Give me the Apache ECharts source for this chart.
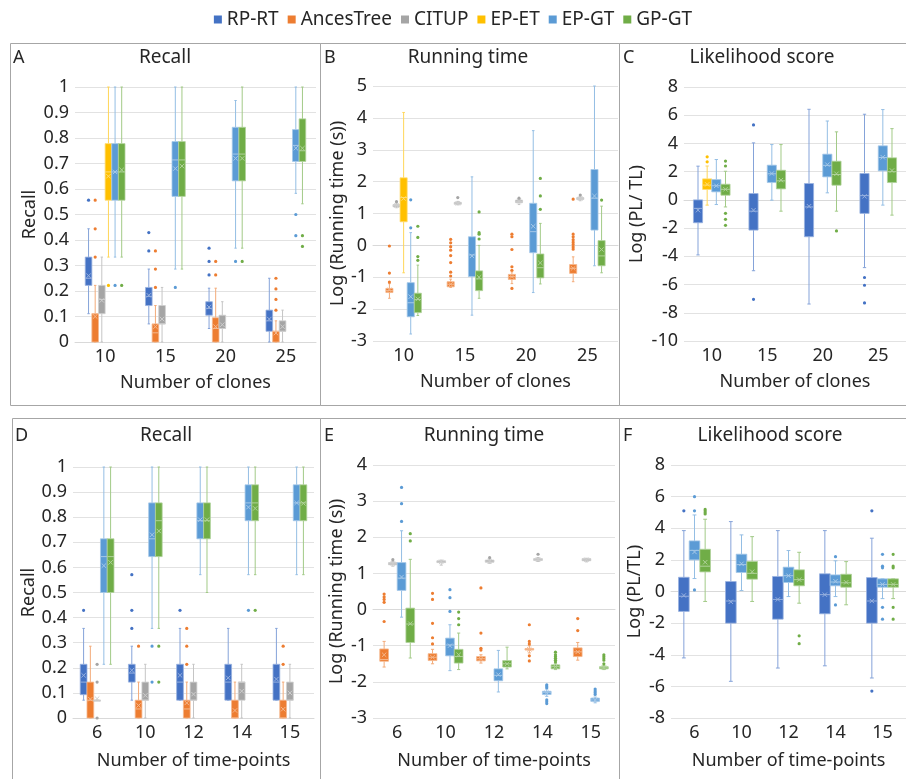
<!DOCTYPE html>
<html>
<head>
<meta charset="utf-8">
<script src="https://cdn.jsdelivr.net/npm/echarts/dist/echarts.min.js"></script>
<style>
html, body { margin: 0; padding: 0; background: #fff; }
#chart { width: 906px; height: 779px; }
</style>
</head>
<body>
<div id="chart"></div>
<script>
var clones = ['10', '15', '20', '25'];
var timePoints = ['6', '10', '12', '14', '15'];
var methods = ['RP-RT', 'AncesTree', 'CITUP', 'EP-ET', 'EP-GT', 'GP-GT'];

// each box: [min, q1, median, q3, max, mean], null = method not in that group
// A - recall vs number of clones
var aRPRT = [[0.111, 0.222, 0.25, 0.333, 0.444, 0.26], [0.071, 0.143, 0.179, 0.214, 0.286, 0.183], [0.053, 0.105, 0.132, 0.158, 0.211, 0.137], [0, 0.042, 0.083, 0.125, 0.25, 0.09]];
var aRPRTOut = [[0.556], [0.429, 0.357], [0.368, 0.316, 0.263], []];
var aAnces = [[0, 0, 0.111, 0.111, 0.222, 0.1], [0, 0, 0.036, 0.071, 0.143, 0.06], [0, 0, 0.053, 0.095, 0.211, 0.06], [0, 0, 0.042, 0.042, 0.083, 0.035]];
var aAncesOut = [[0.556, 0.444, 0.333], [0.357, 0.286, 0.214], [0.316, 0.263], [0.25, 0.208, 0.167, 0.125]];
var aCitup = [[0, 0.111, 0.167, 0.222, 0.333, 0.163], [0, 0.071, 0.071, 0.143, 0.214, 0.09], [0, 0.053, 0.053, 0.105, 0.158, 0.068], [0, 0.042, 0.042, 0.083, 0.125, 0.06]];
var aCitupOut = [[], [], [], []];
var aEPET = [[0.333, 0.556, 0.667, 0.778, 1, 0.65], null, null, null];
var aEPETOut = [[0.222], [], [], []];
var aEPGT = [[0.333, 0.556, 0.667, 0.778, 1, 0.667], [0.286, 0.571, 0.714, 0.786, 1, 0.68], [0.368, 0.632, 0.737, 0.842, 0.947, 0.72], [0.583, 0.708, 0.771, 0.833, 1, 0.76]];
var aEPGTOut = [[0.222], [0.214], [0.316], [0.5, 0.417]];
var aGPGT = [[0.333, 0.556, 0.667, 0.778, 1, 0.675], [0.286, 0.571, 0.714, 0.786, 1, 0.69], [0.368, 0.632, 0.737, 0.842, 1, 0.72], [0.542, 0.708, 0.75, 0.875, 1, 0.76]];
var aGPGTOut = [[0.222], [], [0.316], [0.417, 0.375]];

// B - log running time vs number of clones
var bAnces = [[-1.66, -1.48, -1.42, -1.35, -1.2, -1.4], [-1.32, -1.3, -1.22, -1.14, -1.06, -1.22], [-1.2, -1.07, -0.98, -0.91, -0.83, -0.98], [-1.14, -0.88, -0.72, -0.6, -0.36, -0.72]];
var bAncesOut = [[-0.02, -0.87, -1.15], [0.19, 0.08, -0.04, -0.15, -0.32, -0.54, -0.84, -0.96], [0.35, 0.27, -0.13, -0.67, -0.78, -1.35], [1.45, 0.35, 0.27, 0.18, 0.1, 0.03, -0.05, -0.12]];
var bCitup = [[1.18, 1.21, 1.25, 1.28, 1.32, 1.25], [1.27, 1.29, 1.32, 1.35, 1.38, 1.32], [1.28, 1.34, 1.38, 1.42, 1.45, 1.38], [1.4, 1.44, 1.47, 1.5, 1.53, 1.47]];
var bCitupOut = [[1.37], [1.5], [1.48], [1.58]];
var bEPET = [[-0.86, 0.74, 1.5, 2.12, 4.17, 1.47], null, null, null];
var bEPETOut = [[], [], [], []];
var bEPGT = [[-2.78, -2.24, -1.8, -1.17, 0.4, -1.61], [-2.19, -0.98, -0.3, 0.27, 2.15, -0.33], [-1.48, -0.23, 0.43, 1.32, 3.6, 0.6], [-0.64, 0.48, 1.48, 2.38, 5, 1.55]];
var bEPGTOut = [[1.43, 0.55], [], [], []];
var bGPGT = [[-2.2, -2.11, -1.7, -1.5, -0.62, -1.68], [-1.66, -1.42, -1.05, -0.8, 0, -1.0], [-1.21, -1.02, -0.7, -0.27, 0.69, -0.55], [-0.86, -0.64, -0.33, 0.15, 1.23, -0.13]];
var bGPGTOut = [[0.6, 0.25, -0.35, -0.47], [1.05, 0.4, 0.35, 0.2], [2.1, 1.55, 1.13], [1.42]];

// C - log likelihood ratio vs number of clones
var cRPRT = [[-3.9, -1.62, -0.6, 0, 2.39, -0.73], [-5.02, -2.14, -0.8, 0.45, 4.04, -0.73], [-7.38, -2.61, -0.5, 1.16, 6.42, -0.45], [-4.8, -0.96, 0.3, 1.87, 6.07, 0.25]];
var cRPRTOut = [[], [5.31, -7.05], [], [-5.5, -6.05, -7.3]];
var cEPET = [[-0.37, 0.74, 1.05, 1.49, 2.4, 1.1], null, null, null];
var cEPETOut = [[3.05, 2.7], [], [], []];
var cEPGT = [[-0.33, 0.57, 1.0, 1.44, 2.86, 1.0], [-0.02, 1.23, 1.85, 2.46, 3.92, 1.87], [0.5, 1.63, 2.45, 3.24, 5.59, 2.5], [-0.37, 2.06, 3.0, 3.83, 6.4, 3.02]];
var cEPGTOut = [[], [], [], []];
var cGPGT = [[-0.5, 0.33, 0.75, 1.11, 2.03, 0.75], [-0.8, 0.78, 1.35, 2.1, 3.92, 1.4], [-0.8, 1.04, 1.8, 2.74, 4.82, 1.85], [-1.08, 1.23, 2.0, 2.98, 5.05, 2.08]];
var cGPGTOut = [[2.75, 2.4, -0.95, -1.38, -1.8], [], [-2.2], []];

// D - recall vs number of time-points
var dRPRT = [[0.071, 0.093, 0.143, 0.214, 0.357, 0.17], [0.071, 0.143, 0.179, 0.214, 0.286, 0.19], [0.071, 0.071, 0.143, 0.214, 0.357, 0.17], [0.071, 0.071, 0.143, 0.214, 0.357, 0.16], [0.071, 0.071, 0.143, 0.214, 0.357, 0.155]];
var dRPRTOut = [[0.429], [0.571, 0.429, 0.357], [0.429], [], []];
var dAnces = [[0, 0, 0.071, 0.143, 0.286, 0.075], [0, 0, 0.036, 0.071, 0.143, 0.05], [0, 0, 0.036, 0.071, 0.143, 0.06], [0, 0, 0, 0.071, 0.143, 0.03], [0, 0, 0, 0.071, 0.143, 0.035]];
var dAncesOut = [[], [0.286], [0.357, 0.286, 0.214], [], [0.286, 0.214]];
var dCitup = [[0.071, 0.071, 0.071, 0.071, 0.071, 0.077], [0, 0.071, 0.071, 0.143, 0.214, 0.09], [0, 0.071, 0.071, 0.143, 0.214, 0.095], [0, 0.071, 0.143, 0.143, 0.214, 0.107], [0, 0.071, 0.071, 0.143, 0.214, 0.1]];
var dCitupOut = [[0.214, 0.143, 0], [], [], [], []];
var dEPGT = [[0.214, 0.5, 0.643, 0.714, 1, 0.607], [0.357, 0.643, 0.714, 0.857, 1, 0.73], [0.571, 0.714, 0.786, 0.857, 1, 0.79], [0.571, 0.786, 0.857, 0.929, 1, 0.84], [0.571, 0.786, 0.857, 0.929, 1, 0.857]];
var dEPGTOut = [[], [0.286, 0.143], [], [0.429], []];
var dGPGT = [[0.214, 0.5, 0.643, 0.714, 1, 0.62], [0.357, 0.643, 0.786, 0.857, 1, 0.745], [0.5, 0.714, 0.786, 0.857, 1, 0.79], [0.571, 0.786, 0.857, 0.929, 1, 0.835], [0.571, 0.786, 0.857, 0.929, 1, 0.855]];
var dGPGTOut = [[], [0.286, 0.143], [], [0.429], []];

// E - log running time vs number of time-points
var eAnces = [[-1.59, -1.43, -1.38, -1.09, -0.88, -1.25], [-1.5, -1.41, -1.32, -1.22, -1.1, -1.32], [-1.48, -1.42, -1.36, -1.3, -1.25, -1.36], [-1.2, -1.12, -1.1, -1.08, -1.0, -1.1], [-1.4, -1.3, -1.17, -1.06, -0.91, -1.17]];
var eAncesOut = [[0.43, 0.35, 0.28, 0.2, -0.33], [0.45, 0.28, -0.38, -0.78, -0.95], [0.6, -0.65, -1.07, -1.12], [-0.42, -0.88, -0.95, -1.28, -1.42], [-0.25, -0.58]];
var eCitup = [[1.2, 1.24, 1.27, 1.3, 1.33, 1.27], [1.23, 1.3, 1.32, 1.35, 1.37, 1.32], [1.28, 1.31, 1.34, 1.37, 1.4, 1.34], [1.33, 1.36, 1.38, 1.41, 1.44, 1.38], [1.32, 1.35, 1.38, 1.41, 1.42, 1.38]];
var eCitupOut = [[1.38], [], [1.44], [1.53], []];
var eEPGT = [[-0.21, 0.53, 0.87, 1.3, 2.18, 0.9], [-1.69, -1.28, -0.98, -0.79, -0.42, -1.0], [-2.28, -1.97, -1.82, -1.64, -1.13, -1.8], [-2.4, -2.35, -2.3, -2.26, -2.2, -2.3], [-2.58, -2.54, -2.5, -2.45, -2.42, -2.5]];
var eEPGTOut = [[3.38, 2.93, 2.44], [0.55, 0.33, -0.05], [], [-2.08, -2.12, -2.16, -2.5, -2.55, -2.6], [-2.2, -2.25, -2.3, -2.35]];
var eGPGT = [[-1.34, -0.91, -0.4, 0.04, 1.39, -0.39], [-1.66, -1.48, -1.3, -1.1, -0.65, -1.25], [-1.64, -1.59, -1.5, -1.41, -1.04, -1.5], [-1.66, -1.64, -1.58, -1.53, -1.5, -1.58], [-1.66, -1.64, -1.61, -1.58, -1.55, -1.61]];
var eGPGTOut = [[2.1, 1.9], [-0.07, -0.25, -0.42], [], [-1.18, -1.25, -1.3, -1.35, -1.4, -1.45], [-1.25, -1.3, -1.35, -1.4, -1.5]];

// F - log likelihood ratio vs number of time-points
var fRPRT = [[-4.2, -1.26, -0.3, 0.9, 3.85, -0.25], [-5.68, -2.0, -0.6, 0.63, 4.42, -0.65], [-4.84, -1.75, -0.5, 0.95, 3.85, -0.5], [-4.7, -1.41, -0.2, 1.12, 3.85, -0.2], [-5.47, -2.0, -0.6, 0.88, 3.37, -0.6]];
var fRPRTOut = [[5.1], [], [], [], [5.1, -6.3]];
var fEPGT = [[0.82, 2.0, 2.6, 3.2, 4.84, 2.5], [0.06, 1.2, 1.7, 2.36, 3.58, 1.75], [-0.32, 0.57, 1.0, 1.54, 2.59, 1.0], [-0.32, 0.36, 0.6, 1.05, 1.94, 0.65], [-0.45, 0.27, 0.45, 0.8, 0.8, 0.45]];
var fEPGTOut = [[6.0, 5.1, 0.1], [], [], [2.2, -0.85], [2.35, 1.6, 1.5, -1.0, -1.75]];
var fGPGT = [[-0.63, 1.24, 1.6, 2.67, 4.57, 1.85], [-0.63, 0.78, 1.15, 1.9, 3.47, 1.25], [-0.74, 0.36, 0.75, 1.37, 2.48, 0.75], [-0.84, 0.27, 0.55, 1.09, 1.89, 0.58], [-0.45, 0.27, 0.45, 0.8, 0.8, 0.45]];
var fGPGTOut = [[5.2, 5.1, 5.0, 4.9], [], [-2.8, -3.3], [], [2.35, 1.6, 1.5, -1.0, -1.75]];

var colors = {
    'RP-RT': '#4472C4', 'AncesTree': '#ED7D31', 'CITUP': '#A5A5A5',
    'EP-ET': '#FFC000', 'EP-GT': '#5B9BD5', 'GP-GT': '#70AD47'
};
var textColor = '#262626';
var font = 'Noto Sans';

function tint(hex, t) {
    var n = parseInt(hex.slice(1), 16);
    var r = n >> 16, g = (n >> 8) & 255, b = n & 255;
    r = Math.round(r + (255 - r) * t);
    g = Math.round(g + (255 - g) * t);
    b = Math.round(b + (255 - b) * t);
    return 'rgb(' + r + ',' + g + ',' + b + ')';
}

// grid i, group width as share of a category, [name, boxes, outliers] per slot
var panels = [
    { grid: { left: 75, top: 87, width: 241, height: 255 }, cats: clones, frac: 0.66,
      y: { min: 0, max: 1, interval: 0.1, name: 'Recall', gap: 36 }, xName: 'Number of clones',
      slots: [['RP-RT', aRPRT, aRPRTOut], ['AncesTree', aAnces, aAncesOut], ['CITUP', aCitup, aCitupOut], ['EP-ET', aEPET, aEPETOut], ['EP-GT', aEPGT, aEPGTOut], ['GP-GT', aGPGT, aGPGTOut]] },
    { grid: { left: 373, top: 86, width: 245, height: 255 }, cats: clones, frac: 0.58,
      y: { min: -3, max: 5, interval: 1, name: 'Log (Running time (s))', gap: 25 }, xName: 'Number of clones',
      slots: [['AncesTree', bAnces, bAncesOut], ['CITUP', bCitup, bCitupOut], ['EP-ET', bEPET, bEPETOut], ['EP-GT', bEPGT, bEPGTOut], ['GP-GT', bGPGT, bGPGTOut]] },
    { grid: { left: 684, top: 87, width: 229, height: 254 }, cats: clones, frac: 0.66,
      y: { min: -10, max: 8, interval: 2, name: 'Log (PL/ TL)', gap: 38 }, xName: 'Number of clones',
      slots: [['RP-RT', cRPRT, cRPRTOut], ['EP-ET', cEPET, cEPETOut], ['EP-GT', cEPGT, cEPGTOut], ['GP-GT', cGPGT, cGPGTOut]] },
    { grid: { left: 73, top: 467, width: 241, height: 251 }, cats: timePoints, frac: 0.7,
      y: { min: 0, max: 1, interval: 0.1, name: 'Recall', gap: 35 }, xName: 'Number of time-points',
      slots: [['RP-RT', dRPRT, dRPRTOut], ['AncesTree', dAnces, dAncesOut], ['CITUP', dCitup, dCitupOut], ['EP-GT', dEPGT, dEPGTOut], ['GP-GT', dGPGT, dGPGTOut]] },
    { grid: { left: 373, top: 465, width: 242, height: 253 }, cats: timePoints, frac: 0.72,
      y: { min: -3, max: 4, interval: 1, name: 'Log (Running time (s))', gap: 27 }, xName: 'Number of time-points',
      slots: [['AncesTree', eAnces, eAncesOut], ['CITUP', eCitup, eCitupOut], ['EP-GT', eEPGT, eEPGTOut], ['GP-GT', eGPGT, eGPGTOut]] },
    { grid: { left: 671, top: 465, width: 241, height: 253 }, cats: timePoints, frac: 0.68,
      y: { min: -8, max: 8, interval: 2, name: 'Log (PL/TL)', gap: 27 }, xName: 'Number of time-points',
      slots: [['RP-RT', fRPRT, fRPRTOut], ['EP-GT', fEPGT, fEPGTOut], ['GP-GT', fGPGT, fGPGTOut]] }
];

function slotX(api, slot, nSlots, frac) {
    var band = api.size([1, 0])[0];
    var w = band * frac / nSlots;
    var cx = api.coord([api.value(0), 0])[0] + (slot - (nSlots - 1) / 2) * w;
    return { cx: cx, w: w };
}

function boxRenderer(slot, nSlots, frac, color) {
    var light = tint(color, 0.45);
    var whisker = tint(color, 0.35);
    return function (params, api) {
        var p = slotX(api, slot, nSlots, frac);
        var cat = api.value(0);
        var y = function (k) { return api.coord([cat, api.value(k)])[1]; };
        var x0 = p.cx - p.w / 2, x1 = p.cx + p.w / 2;
        var yMin = y(1), yQ1 = y(2), yMed = y(3), yQ3 = y(4), yMax = y(5), yMean = y(6);
        var cap = p.w * 0.18, m = 2.2;
        var ln = function (a, b, c, d, s) {
            return { type: 'line', shape: { x1: a, y1: b, x2: c, y2: d }, style: { stroke: s, lineWidth: 1 } };
        };
        return {
            type: 'group',
            children: [
                ln(p.cx, yMax, p.cx, yQ3, whisker),
                ln(p.cx, yQ1, p.cx, yMin, whisker),
                ln(p.cx - cap, yMax, p.cx + cap, yMax, whisker),
                ln(p.cx - cap, yMin, p.cx + cap, yMin, whisker),
                { type: 'rect', shape: { x: x0, y: yQ3, width: p.w, height: Math.max(yQ1 - yQ3, 1) },
                  style: { fill: color, stroke: light, lineWidth: 0.8 } },
                ln(x0, yMed, x1, yMed, light),
                ln(p.cx - m, yMean - m, p.cx + m, yMean + m, light),
                ln(p.cx - m, yMean + m, p.cx + m, yMean - m, light)
            ]
        };
    };
}

function dotRenderer(slot, nSlots, frac, color) {
    return function (params, api) {
        var p = slotX(api, slot, nSlots, frac);
        var cy = api.coord([api.value(0), api.value(1)])[1];
        return { type: 'circle', shape: { cx: p.cx, cy: cy, r: 1.6 }, style: { fill: color } };
    };
}

var grids = [], xAxes = [], yAxes = [], series = [];
panels.forEach(function (pn, gi) {
    grids.push(pn.grid);
    xAxes.push({
        type: 'category', gridIndex: gi, data: pn.cats,
        axisTick: { show: false },
        axisLine: { lineStyle: { color: '#D9D9D9' } },
        axisLabel: { fontSize: 18, color: textColor, fontFamily: font, margin: 6 },
        name: pn.xName, nameLocation: 'middle', nameGap: gi < 3 ? 32 : 34,
        nameTextStyle: { fontSize: 18, color: textColor, fontFamily: font }
    });
    yAxes.push({
        type: 'value', gridIndex: gi, min: pn.y.min, max: pn.y.max, interval: pn.y.interval,
        axisLine: { show: false }, axisTick: { show: false },
        splitLine: { lineStyle: { color: '#E2E2E2' } },
        axisLabel: { fontSize: 18, color: textColor, fontFamily: font, margin: 6 },
        name: pn.y.name, nameLocation: 'middle', nameGap: pn.y.gap,
        nameTextStyle: { fontSize: 18, color: textColor, fontFamily: font }
    });
    var n = pn.slots.length;
    pn.slots.forEach(function (s, k) {
        var name = s[0], color = colors[name];
        var boxData = [], dotData = [];
        s[1].forEach(function (b, i) { if (b) boxData.push([i].concat(b)); });
        s[2].forEach(function (vals, i) { vals.forEach(function (v) { dotData.push([i, v]); }); });
        series.push({
            type: 'custom', name: name, xAxisIndex: gi, yAxisIndex: gi,
            itemStyle: { color: color },
            renderItem: boxRenderer(k, n, pn.frac, color),
            data: boxData, silent: true, z: 3
        });
        if (dotData.length) {
            series.push({
                type: 'custom', name: name, xAxisIndex: gi, yAxisIndex: gi,
                itemStyle: { color: color },
                renderItem: dotRenderer(k, n, pn.frac, color),
                data: dotData, silent: true, z: 4
            });
        }
    });
});

var frames = [[10, 43, 310, 362], [320, 43, 299, 362], [619, 43, 300, 362],
              [12, 418, 308, 370], [320, 418, 299, 370], [619, 418, 300, 370]];
var letters = [['A', 13, 58], ['B', 324, 58], ['C', 623, 58], ['D', 15, 436], ['E', 324, 436], ['F', 623, 436]];
var titles = [['Recall', 165, 58], ['Running time', 468, 58], ['Likelihood score', 762, 58],
              ['Recall', 166, 436], ['Running time', 484, 436], ['Likelihood score', 770, 436]];

var graphics = [];
frames.forEach(function (f) {
    graphics.push({ type: 'rect', silent: true, z: 10,
        shape: { x: f[0] + 0.5, y: f[1] + 0.5, width: f[2], height: f[3] },
        style: { fill: null, stroke: '#A6A6A6', lineWidth: 1 } });
});
letters.forEach(function (t) {
    graphics.push({ type: 'text', x: t[1], y: t[2], z: 10,
        style: { text: t[0], fontSize: 18, fontFamily: font, fill: textColor, textAlign: 'left', textVerticalAlign: 'middle' } });
});
titles.forEach(function (t) {
    graphics.push({ type: 'text', x: t[1], y: t[2], z: 10,
        style: { text: t[0], fontSize: 19, fontFamily: font, fill: textColor, textAlign: 'center', textVerticalAlign: 'middle' } });
});

var myChart = echarts.init(document.getElementById('chart'), null, { renderer: 'canvas' });
var option = {
    backgroundColor: '#fff',
    animation: false,
    textStyle: { fontFamily: font },
    legend: {
        data: methods, top: 5, left: 'center', icon: 'rect',
        itemWidth: 8, itemHeight: 8, itemGap: 9, selectedMode: false,
        textStyle: { fontSize: 19, color: textColor, fontFamily: font }
    },
    grid: grids,
    xAxis: xAxes,
    yAxis: yAxes,
    graphic: graphics,
    series: series
};
myChart.setOption(option);
</script>
</body>
</html>
